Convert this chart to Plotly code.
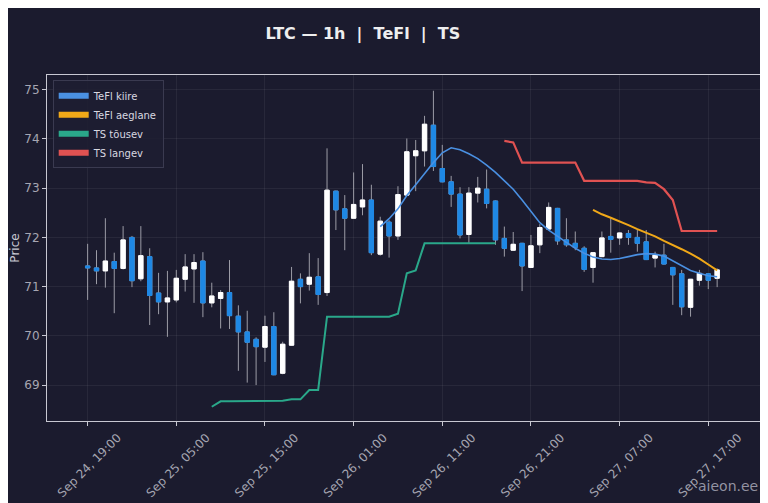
import pandas as pd
import plotly.graph_objects as go

# LTC 1h candles, Sep 24 19:00 -> Sep 27 18:00
start = "2025-09-24 19:00"
opens = [71.42, 71.38, 71.32, 71.51, 71.37, 72.00, 71.16, 71.61, 70.87, 70.69,
         70.73, 71.15, 71.36, 71.52, 70.67, 70.76, 70.88, 70.40, 70.08, 69.93,
         69.77, 70.19, 69.24, 69.81, 71.15, 71.05, 71.20, 70.88, 72.94, 72.58,
         72.39, 72.62, 72.76, 71.66, 72.31, 72.03, 72.86, 73.66, 73.76, 74.28,
         73.40, 73.13, 72.88, 72.06, 72.90, 72.98, 72.74, 71.98, 71.74, 71.88,
         71.39, 71.85, 72.17, 72.59, 71.95, 71.88, 71.78, 71.39, 71.61, 72.02,
         71.99, 72.08, 72.00, 71.91, 71.58, 71.64, 71.39, 71.26, 70.58, 71.13,
         71.26, 71.17]
highs = [71.87, 71.74, 72.39, 71.69, 72.23, 72.03, 72.23, 71.78, 71.28, 71.32,
         71.34, 71.66, 71.66, 71.70, 71.08, 70.93, 71.54, 70.62, 70.51, 69.97,
         70.41, 70.48, 69.88, 71.40, 71.27, 71.68, 71.58, 73.81, 72.95, 72.86,
         73.32, 73.49, 73.07, 72.42, 72.35, 73.04, 74.01, 73.98, 74.47, 74.98,
         73.88, 73.25, 73.02, 73.02, 73.23, 73.38, 72.75, 72.22, 72.11, 71.89,
         72.05, 72.27, 72.71, 72.60, 72.39, 72.12, 71.82, 71.70, 72.12, 72.39,
         72.10, 72.15, 72.15, 72.15, 71.71, 71.87, 71.40, 71.34, 71.15, 71.34,
         71.27, 71.37]
lows = [70.73, 71.05, 70.98, 70.46, 71.35, 70.99, 71.11, 70.22, 70.44, 69.98,
        70.68, 70.90, 70.67, 70.38, 70.58, 70.15, 70.14, 69.29, 69.05, 69.00,
        69.47, 69.20, 69.22, 69.80, 70.66, 70.92, 70.63, 70.81, 72.15, 71.74,
        72.38, 72.45, 71.64, 71.63, 71.59, 71.95, 72.85, 72.94, 73.44, 73.35,
        73.12, 72.62, 71.98, 71.88, 72.71, 72.59, 71.85, 71.61, 71.73, 70.91,
        71.38, 71.68, 72.16, 71.85, 71.81, 71.74, 71.30, 71.08, 71.60, 71.69,
        71.85, 71.85, 71.71, 71.54, 71.39, 71.45, 70.63, 70.42, 70.39, 71.02,
        70.95, 70.99]
closes = [71.38, 71.32, 71.52, 71.37, 71.95, 71.12, 71.63, 70.82, 70.69, 70.77,
          71.17, 71.40, 71.49, 70.67, 70.81, 70.88, 70.41, 70.08, 69.87, 69.78,
          70.19, 69.21, 69.83, 71.11, 71.00, 71.19, 70.84, 72.96, 72.56, 72.39,
          72.67, 72.76, 71.69, 72.33, 72.03, 72.87, 73.74, 73.76, 74.30, 73.44,
          73.13, 72.88, 72.05, 72.90, 73.00, 72.69, 71.95, 71.78, 71.86, 71.42,
          71.83, 72.20, 72.61, 71.93, 71.85, 71.80, 71.35, 71.69, 71.99, 71.96,
          72.09, 72.00, 71.88, 71.55, 71.64, 71.46, 71.24, 70.59, 71.15, 71.27,
          71.13, 71.34]

N = None
tefl_kiire = [N] * 33 + [72.22, 72.38, 72.58, 72.85, 73.07, 73.30, 73.52, 73.72,
                         73.82, 73.78, 73.70, 73.60, 73.47, 73.32, 73.15, 72.98,
                         72.76, 72.52, 72.30, 72.15, 72.02, 71.90, 71.78, 71.68,
                         71.60, 71.56, 71.55, 71.57, 71.61, 71.65, 71.67, 71.66,
                         71.62, 71.52, 71.42, 71.33, 71.27, 71.22, 71.20]
tefl_aeglane = [N] * 57 + [72.56, 72.47, 72.40, 72.33, 72.25, 72.17, 72.10, 72.02,
                           71.93, 71.85, 71.76, 71.67, 71.57, 71.45, 71.33]
ts_tousev = [N] * 14 + [68.56, 68.67, 68.67, 68.67, 68.67, 68.67, 68.67, 68.68,
                        68.68, 68.71, 68.71, 68.90, 68.90, 70.39, 70.39, 70.39,
                        70.39, 70.39, 70.39, 70.39, 70.39, 70.45, 71.27, 71.33,
                        71.88, 71.88, 71.88, 71.88, 71.88, 71.88, 71.88, 71.88,
                        71.88] + [N] * 25
ts_langev = [N] * 47 + [73.96, 73.93, 73.52, 73.52, 73.52, 73.52, 73.52, 73.52,
                        73.52, 73.15, 73.15, 73.15, 73.15, 73.15, 73.15, 73.15,
                        73.12, 73.11, 72.98, 72.76, 72.13, 72.13, 72.13, 72.13,
                        72.13]

times = pd.date_range(start, periods=len(opens), freq="h")
tick_vals = pd.date_range("2025-09-24 19:00", periods=8, freq="10h")

BG = "#1b1b2e"
UP = "#ffffff"
DOWN = "#1e88e5"
WICK = "#9c9ca6"
GRID = "rgba(255,255,255,0.06)"
TXT = "#a6a6b2"

body_hi = [max(o, c) for o, c in zip(opens, closes)]
body_lo = [min(o, c) for o, c in zip(opens, closes)]

fig = go.Figure()
# wicks
fig.add_trace(go.Candlestick(
    x=times, open=opens, high=highs, low=lows, close=closes,
    increasing=dict(line=dict(color=WICK, width=1), fillcolor=WICK),
    decreasing=dict(line=dict(color=WICK, width=1), fillcolor=WICK),
    whiskerwidth=0, showlegend=False, hoverinfo="skip"))
# bodies
fig.add_trace(go.Candlestick(
    x=times, open=opens, high=body_hi, low=body_lo, close=closes,
    increasing=dict(line=dict(color=UP, width=1), fillcolor=UP),
    decreasing=dict(line=dict(color=DOWN, width=1), fillcolor=DOWN),
    whiskerwidth=0, showlegend=False))

lines = [
    ("TeFl kiire", tefl_kiire, "#4a90e2", 1.6),
    ("TeFl aeglane", tefl_aeglane, "#f0a818", 2),
    ("TS tõusev", ts_tousev, "#2aa88a", 2),
    ("TS langev", ts_langev, "#e05252", 2.2),
]
for name, vals, col, w in lines:
    fig.add_trace(go.Scatter(x=times, y=vals, mode="lines", name=name,
                             line=dict(color=col, width=w), showlegend=False))
# legend swatches (filled boxes like the original)
for name, vals, col, w in lines:
    fig.add_trace(go.Scatter(x=[None], y=[None], mode="none", fill="toself",
                             fillcolor=col, name=name, showlegend=True))

# page body has an 8px margin, so the figure is a bit smaller than the window
fig.update_layout(
    width=760, height=495,
    paper_bgcolor=BG, plot_bgcolor=BG,
    margin=dict(l=39, r=8, t=67, b=82, autoexpand=False),
    font=dict(family="DejaVu Sans", color=TXT, size=11),
    title=dict(text="<b>LTC — 1h\u00a0\u00a0|\u00a0\u00a0TeFl\u00a0\u00a0|\u00a0\u00a0TS</b>",
               x=0.467, xanchor="center", y=0.949, yanchor="middle",
               font=dict(size=16, color="#eeeeee")),
    showlegend=True,
    legend=dict(x=0.008, y=0.985, xanchor="left", yanchor="top",
                bgcolor="rgba(30,30,50,0.9)", bordercolor="#3a3a50", borderwidth=1,
                font=dict(size=10, color="#d8d8e0"), itemwidth=30),
    xaxis=dict(type="date", range=["2025-09-24 14:25", "2025-09-27 22:50"],
               rangeslider=dict(visible=False), automargin=False,
               tickvals=tick_vals, tickformat="%b %-d, %H:%M", tickangle=-45,
               ticklabelshift=30,
               showgrid=True, gridcolor=GRID, showline=True, linecolor="#c8c8d2",
               mirror=True, ticks="outside", ticklen=4, tickcolor="#c8c8d2",
               zeroline=False, tickfont=dict(size=12, color=TXT)),
    yaxis=dict(range=[68.27, 75.3], dtick=1, automargin=False,
               title=dict(text="Price", standoff=3, font=dict(size=12, color="#c8c8d2")),
               showgrid=True, gridcolor=GRID, showline=True, linecolor="#c8c8d2",
               mirror=True, ticks="outside", ticklen=4, tickcolor="#c8c8d2",
               zeroline=False, tickfont=dict(size=12, color=TXT)),
    annotations=[dict(text="aieon.ee", xref="paper", yref="paper", x=1.0, y=-0.188,
                      xanchor="right", yanchor="middle", showarrow=False,
                      font=dict(size=14, color="rgba(170,170,185,0.85)"))],
)

fig.write_html("out.html")
